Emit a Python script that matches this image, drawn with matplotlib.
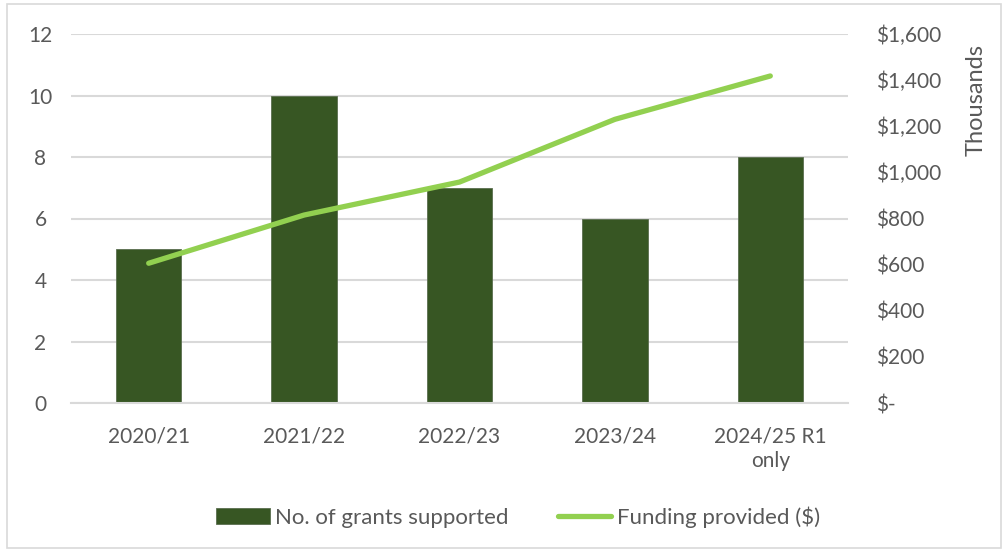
import matplotlib
matplotlib.use("Agg")
import matplotlib.pyplot as plt
from matplotlib.patches import Rectangle
from matplotlib.ticker import FuncFormatter, MultipleLocator

plt.rcParams['font.family'] = ['Lato', 'DejaVu Sans']

years = ["2020/21", "2021/22", "2022/23", "2023/24", "2024/25 R1\nonly"]
grants = [5, 10, 7, 6, 8]
funding_thousands = [606, 815, 958, 1230, 1418]

BAR = "#375623"
LINE = "#92D050"
TEXT = "#595959"
GRID = "#D9D9D9"

W, H = 1008, 552
fig = plt.figure(figsize=(W / 100, H / 100), dpi=100)
fig.patches.append(Rectangle((7 / W, 4 / H), (W - 14) / W, (H - 8) / H,
                             transform=fig.transFigure, fill=False,
                             edgecolor="#D9D9D9", linewidth=1.2))

ax = fig.add_axes([71 / W, (H - 403) / H, (848 - 71) / W, (403 - 34) / H])
x = list(range(len(years)))
ax.bar(x, grants, width=0.42, color=BAR, edgecolor="#5a6e4f", linewidth=0.6,
       zorder=2, label="No. of grants supported")
ax.set_xlim(-0.5, len(years) - 0.5)
ax.set_ylim(0, 12)
ax.yaxis.set_major_locator(MultipleLocator(2))
ax.grid(axis="y", color=GRID, linewidth=1.5, zorder=0)
ax.set_axisbelow(True)
for s in ["top", "right", "left"]:
    ax.spines[s].set_visible(False)
ax.spines["bottom"].set_color(GRID)
ax.spines["bottom"].set_linewidth(1.5)
ax.tick_params(axis="both", length=0, colors=TEXT, labelsize=15)
ax.tick_params(axis="y", pad=22)
ax.tick_params(axis="x", pad=17)
ax.set_xticks(x)
ax.set_xticklabels(years, linespacing=1.3)
for lbl in ax.get_yticklabels():
    lbl.set_horizontalalignment("center")

ax2 = ax.twinx()
ax2.plot(x, funding_thousands, color=LINE, linewidth=3.8, solid_capstyle="round",
         zorder=3, label="Funding provided ($)")
ax2.set_ylim(0, 1600)
ax2.yaxis.set_major_locator(MultipleLocator(200))
ax2.yaxis.set_major_formatter(FuncFormatter(
    lambda v, p: "$-" if v == 0 else f"${v:,.0f}"))
for s in ax2.spines.values():
    s.set_visible(False)
ax2.tick_params(axis="y", length=0, colors=TEXT, labelsize=15, pad=20)
fig.text(976 / W, 1 - 100 / H, "Thousands", rotation=90, ha="center",
         va="center", color=TEXT, fontsize=17)

h1, l1 = ax.get_legend_handles_labels()
h2, l2 = ax2.get_legend_handles_labels()
fig.legend(h1 + h2, l1 + l2, loc="center", bbox_to_anchor=(518 / W, 1 - 517 / H),
           ncol=2, frameon=False, fontsize=16, labelcolor=TEXT,
           handlelength=2.4, handleheight=0.75, handletextpad=0.25,
           columnspacing=2.2)

fig.savefig("out.png", dpi=100)
